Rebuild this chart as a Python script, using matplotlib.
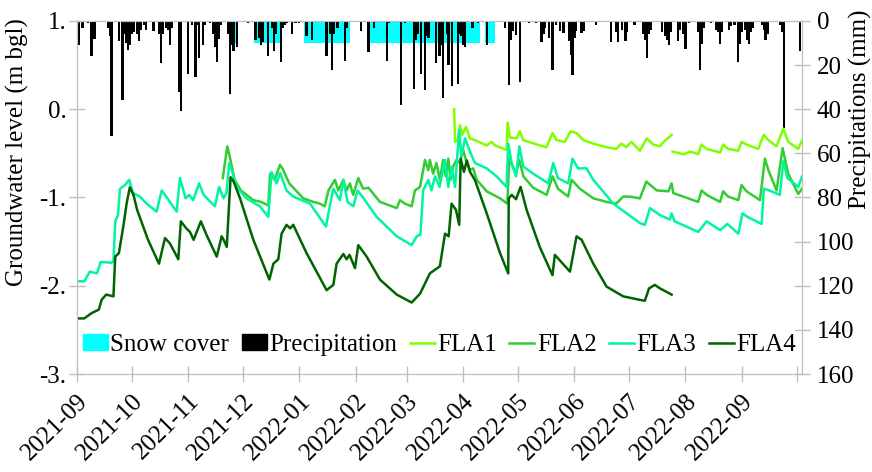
#importing required modules
import numpy as np
import pandas as pd
import matplotlib
matplotlib.use("Agg")
import matplotlib.pyplot as plt
from matplotlib.patches import Patch
from matplotlib.lines import Line2D

plt.rcParams['font.family'] = ['Liberation Serif', 'DejaVu Serif']

#data (x = days since 2021-09-01)
start_date = pd.Timestamp('2021-09-01')

precip_day = [1, 3, 6, 8, 9, 10, 17, 18, 19, 23, 25, 26, 27, 28, 29, 30, 31, 33, 34, 35, 37, 38, 42, 45, 46, 47,
              49, 50, 51, 52, 56, 57, 61, 63, 65, 66, 67, 69, 70, 73, 75, 76, 77, 78, 79, 83, 84, 85, 86, 88, 94,
              98, 100, 101, 102, 105, 107, 108, 109, 112, 113, 114, 115, 118, 120, 122, 126, 129, 137, 139, 140,
              141, 143, 147, 148, 156, 160, 163, 170, 171, 178, 180, 185, 186, 187, 189, 191, 192, 193, 197, 199,
              200, 201, 203, 204, 206, 209, 210, 211, 212, 213, 217, 220, 225, 235, 237, 238, 239, 241, 243, 248,
              252, 255, 256, 257, 259, 261, 263, 265, 267, 270, 271, 272, 273, 274, 277, 278, 285, 293, 296, 297,
              299, 301, 302, 306, 311, 312, 313, 314, 315, 321, 323, 324, 325, 326, 330, 331, 333, 334, 336, 341,
              342, 343, 344, 348, 351, 352, 353, 354, 358, 359, 361, 363, 364, 365, 367, 368, 369, 370, 371, 376,
              377, 378, 379, 386, 387, 388, 397]
precip_mm = [11, 3, 1, 16, 8, 8, 3, 7, 52, 9, 36, 6, 10, 13, 11, 6, 5, 6, 9, 4, 2, 4, 4.5, 6, 19, 6,
             3, 4, 11, 3, 32, 41, 24, 2, 25.5, 2, 16.7, 11, 2, 1, 6, 11.7, 18.5, 8, 2, 6, 33, 11, 13.5, 12, 1,
             8.6, 7.5, 11, 9.6, 16, 3, 13.5, 6, 18.5, 3, 2, 1, 6, 1, 1, 7, 8.6, 16, 6, 22,
             6, 3, 18, 3, 4.5, 14, 3, 18, 1, 38, 1, 31, 8.6, 6, 24, 31.4, 7, 7.5, 19, 16,
             11, 35, 6, 20, 29.4, 28.6, 6, 7, 11, 12, 3, 1, 11, 3, 29, 8.6, 4.5, 6.5, 27.6, 1,
             1, 9.6, 6, 3, 7.5, 22, 2, 4.5, 5.5, 9, 15.5, 24.5, 7.5, 4.5, 5.5, 4.5, 2, 9.6, 4.8, 9.6,
             4, 9, 4.8, 2, 6, 8.6, 17, 6, 4, 5, 7, 8.6, 11, 5, 9, 4, 6, 12.7, 1, 5,
             22, 10.5, 3, 1, 4, 5, 10.5, 4.8, 4, 2.5, 2, 18.5, 10.5, 4.8, 4, 8.6, 10.5, 4.8, 3, 2,
             4, 8.6, 6, 2, 5, 48.6, 13.6]

snow_start = [86.5, 97, 124.5, 161, 224]
snow_end = [88, 111.5, 150, 221, 229.5]
snow_depth = 10

fla1_day = [207, 207.5, 209, 210.2, 211.5, 213.5, 215.7, 218.4, 224.9, 227.6, 229.5, 235.8, 236.4, 237.6, 241.3,
            243.1, 244.9, 254, 257.7, 261, 263.2, 267.7, 271, 274.2, 277.9, 283.4, 290.7, 296, 298.8, 301.5,
            304.3, 309, 312.7, 316.3, 320, 322, 326.4, 326.6, 326.9, 333, 336.7, 341, 342.8, 345.6, 353, 354.7,
            357.4, 363, 364.8, 367.5, 373.9, 377, 379.5, 384, 387.7, 390.4, 395.9, 398]
fla1_val = [0.0, -0.37, -0.35, -0.18, -0.29, -0.20, -0.33, -0.35, -0.41, -0.37, -0.41, -0.46, -0.15, -0.32, -0.33,
            -0.25, -0.35, -0.41, -0.43, -0.27, -0.35, -0.37, -0.25, -0.27, -0.35, -0.39, -0.43, -0.45, -0.39, -0.43,
            -0.37, -0.47, -0.33, -0.40, -0.42, -0.37, -0.29, np.nan, -0.48, -0.51, -0.48, -0.51, -0.40, -0.45, -0.49, -0.40,
            -0.45, -0.47, -0.37, -0.40, -0.45, -0.29, -0.35, -0.42, -0.22, -0.37, -0.45, -0.35]

fla2_day = [80, 82.5, 84, 86.5, 90, 96.8, 101, 105, 106, 108.5, 111.4, 113, 116.5, 124.2, 129.7, 133.4, 136, 138,
            139.8, 141.6, 143.4, 146.2, 148, 149.8, 151.6, 154.4, 157, 160, 166.3, 175.5, 177.3, 180, 183.7,
            185.5, 188.3, 189.2, 191, 192.8, 193.7, 195.5, 197.3, 199.2, 201, 202.4, 203.8, 205, 206.5, 208.3,
            210.1, 212, 213.5, 215.7, 217.5, 219.4, 224.9, 232.2, 236.2, 237.3, 239.2, 241, 242.8, 245, 250.4,
            257.8, 261, 264, 269.6, 271.5, 276, 283.4, 290.7, 296, 299.8, 303.5, 309, 312.5, 318.2, 324.6, 326.4,
            327.3, 332.8, 341, 342.8, 345.6, 353, 354.7, 357.4, 363, 364.8, 367.5, 374.9, 377.6, 379.5, 384,
            387.3, 390.4, 395.9, 398]
fla2_val = [-0.78, -0.42, -0.55, -0.80, -0.92, -1.03, -1.05, -1.09, -0.73, -0.80, -0.63, -0.68, -0.84, -1.01, -1.05,
            -1.07, -1.10, -0.92, -0.86, -0.80, -0.92, -0.80, -0.92, -0.84, -0.97, -0.78, -0.90, -0.89, -1.05, -1.12,
            -1.03, -1.07, -1.10, -0.92, -0.88, -0.78, -0.575, -0.69, -0.575, -0.73, -0.61, -0.80, -0.575, -0.76,
            -0.56, -0.80, -0.65, -0.575, -0.61, -0.46, -0.575, -0.69, -0.67, -0.80, -0.93, -1.01, -1.07, -0.56,
            -0.65, -0.73, -0.575, -0.76, -0.89, -0.97, -0.76, -0.90, -0.99, -0.80, -0.90, -1.01, -1.05, -1.07,
            -0.99, -0.99, -1.01, -0.82, -0.92, -0.93, -0.84, -0.95, -0.99, -1.05, -0.92, -0.97, -1.05, -0.93,
            -0.99, -1.03, -0.86, -0.93, -1.03, -0.56, -0.69, -0.92, -0.44, -0.73, -0.96, -0.90]

fla3_day = [0, 4, 7, 11, 13, 19, 20, 21, 22.5, 23.6, 26.3, 28.7, 30.7, 32.8, 34.5, 38.2, 43.7, 46.5, 48.3, 54.7,
            56.5, 59.6, 61.5, 63.8, 67, 69.5, 75.7, 78, 80.4, 82, 83.6, 85.1, 87.6, 93, 100.4, 105, 106.8, 109.6,
            111.5, 115, 118.7, 127.9, 136.7, 138, 140.7, 144.3, 146.2, 148.5, 151.7, 154, 157, 164.5, 175.5,
            183.7, 186.5, 188.5, 190, 192.8, 194.6, 196.5, 199, 202, 203.8, 205.6, 207.5, 209.8, 211, 213, 215.5,
            218.4, 224.9, 230.3, 235.8, 236.7, 238.6, 241, 242.8, 245, 250.4, 258.7, 261.4, 264, 269.6, 272, 275,
            279.7, 283.4, 294.4, 301.7, 309, 311.7, 314.5, 320, 325.5, 326.4, 328, 341, 345.6, 353, 357, 363,
            365.3, 368, 375.8, 377, 380, 385.8, 387.7, 390, 395.9, 398]
fla3_val = [-1.95, -1.95, -1.84, -1.86, -1.73, -1.74, -1.72, -1.27, -1.20, -0.90, -0.86, -0.80, -0.95, -0.97, -0.99,
            -1.07, -1.16, -0.92, -0.97, -1.16, -0.78, -1.01, -0.97, -1.03, -0.84, -0.97, -1.10, -0.88, -1.01, -0.95,
            -0.61, -0.70, -0.88, -1.01, -1.10, -1.22, -0.71, -0.84, -0.72, -0.92, -0.99, -1.07, -1.33, -1.18, -0.90,
            -1.03, -0.80, -1.05, -1.10, -0.92, -1.00, -1.22, -1.44, -1.54, -1.44, -1.42, -0.92, -0.80, -0.92,
            -0.76, -0.88, -0.575, -0.88, -0.65, -0.88, -0.235, -0.54, -0.33, -0.47, -0.61, -0.67, -0.76, -0.88,
            -0.39, -0.61, -0.76, -0.42, -0.65, -0.73, -0.84, -0.61, -0.78, -0.84, -0.56, -0.67, -0.67, -0.80,
            -1.07, -1.18, -1.29, -1.31, -1.12, -1.20, -1.25, -1.18, -1.27, -1.39, -1.27, -1.37, -1.30, -1.41,
            -1.18, -1.22, -1.30, -0.90, -0.92, -0.97, -0.59, -0.78, -0.88, -0.76]

fla4_day = [0, 4, 8, 12, 13.5, 16, 20, 21, 23, 25.4, 27.3, 29, 31, 33, 39, 45, 48.3, 51, 55.6, 57, 60, 62, 64, 68,
            71, 76.7, 79.4, 80.5, 82.2, 84.3, 86, 89.5, 96.8, 105.6, 107.8, 110.5, 112.3, 115, 117, 118.7, 126,
            137, 140.7, 142.5, 146.2, 148, 149.6, 152.6, 154.4, 159, 166.3, 175.5, 183.7, 188.3, 193.7, 199.2,
            202, 204, 205.6, 208, 209.8, 210.6, 212.4, 214, 215.7, 218.4, 224.9, 232.2, 236.7, 237, 238.6, 241,
            243.5, 246.8, 254, 261, 262.3, 270.6, 274.2, 277, 283.4, 290.7, 299.8, 309, 311.7, 314, 317.2, 320,
            326.4]
fla4_val = [-2.37, -2.37, -2.31, -2.27, -2.16, -2.10, -2.12, -1.67, -1.63, -1.33, -1.06, -0.885, -0.97, -1.14,
            -1.48, -1.75, -1.46, -1.52, -1.70, -1.27, -1.35, -1.39, -1.48, -1.27, -1.42, -1.67, -1.44, -1.48,
            -1.56, -0.77, -0.82, -1.01, -1.48, -1.93, -1.75, -1.70, -1.41, -1.31, -1.35, -1.31, -1.63, -2.05,
            -1.99, -1.75, -1.64, -1.70, -1.65, -1.80, -1.54, -1.67, -1.93, -2.10, -2.19, -2.09, -1.86, -1.78,
            -1.41, -1.44, -1.07, -1.14, -1.31, -0.56, -0.71, -0.58, -0.71, -0.80, -1.18, -1.63, -1.86, -1.01,
            -0.97, -1.02, -0.88, -1.14, -1.56, -1.88, -1.65, -1.84, -1.44, -1.48, -1.75, -2.01, -2.12, -2.16,
            -2.17, -2.03, -1.99, -2.03, -2.10]

gw_ticks = [1, 0, -1, -2, -3]
gw_tick_labels = ["1.", "0.", "-1.", "-2.", "-3."]
precip_ticks = [0, 20, 40, 60, 80, 100, 120, 140, 160]

#colours and sizes
grey = '#BFBFBF'
colors = {'FLA1': '#7FFF00', 'FLA2': '#32CD32', 'FLA3': '#00F5A0', 'FLA4': '#006400'}
fs = 18

fig = plt.figure(figsize=(8.72, 4.72), dpi=100)
ax = fig.add_axes([0.0883, 0.2076, 0.8315, 0.748])
ax2 = ax.twinx()

#precipitation + snow on the right axis (inverted)
ax2.bar(snow_start, snow_depth, width=np.array(snow_end) - np.array(snow_start), align='edge',
        color='#00FFFF', linewidth=0)
ax2.bar(precip_day, precip_mm, width=1.3, color='black', linewidth=0)
ax2.set_ylim(160, 0)
ax2.set_yticks(precip_ticks)
ax2.set_ylabel("Precipitations (mm)", fontsize=fs, rotation=90)
ax2.yaxis.set_label_coords(1.064, 0.75)

#groundwater lines on top
ax.set_zorder(ax2.get_zorder() + 1)
ax.patch.set_visible(False)
for name, d, v in [('FLA1', fla1_day, fla1_val), ('FLA2', fla2_day, fla2_val),
                   ('FLA3', fla3_day, fla3_val), ('FLA4', fla4_day, fla4_val)]:
    ax.plot(d, v, color=colors[name], linewidth=1.8)

ax.set_ylim(-3, 1)
ax.set_yticks(gw_ticks)
ax.set_yticklabels(gw_tick_labels)
ax.set_ylabel("Groundwater level (m bgl)", fontsize=fs)
ax.yaxis.set_label_coords(-0.066, 0.63)

#monthly x ticks
months = pd.date_range('2021-09-01', '2022-10-01', freq='MS')
month_pos = [(m - start_date).days for m in months]
month_labels = [m.strftime('%Y-%m') for m in months[:-1]] + ['']
ax.set_xlim(0, 398)
ax.set_xticks(month_pos)
ax.set_xticklabels(month_labels, rotation=45, ha='right', rotation_mode='anchor')

for a in (ax, ax2):
    for s in a.spines.values():
        s.set_color(grey)
    a.tick_params(direction='inout', length=11, width=1, color=grey, labelsize=fs, pad=2)
ax.tick_params(axis='x', pad=6)
ax2.tick_params(axis='y', pad=5)

#legend
handles = [Patch(color='#00FFFF'), Patch(color='black')] + \
          [Line2D([], [], color=colors[n], linewidth=1.8) for n in ['FLA1', 'FLA2', 'FLA3', 'FLA4']]
labels = ['Snow cover', 'Precipitation', 'FLA1', 'FLA2', 'FLA3', 'FLA4']
ax.legend(handles, labels, loc='center left', bbox_to_anchor=(0.008, 0.082), ncol=6, frameon=False,
          fontsize=fs, handlelength=1.0, handleheight=0.6, handletextpad=0.1, columnspacing=0.5,
          borderpad=0, borderaxespad=0)

plt.savefig('out.png', dpi=100)
